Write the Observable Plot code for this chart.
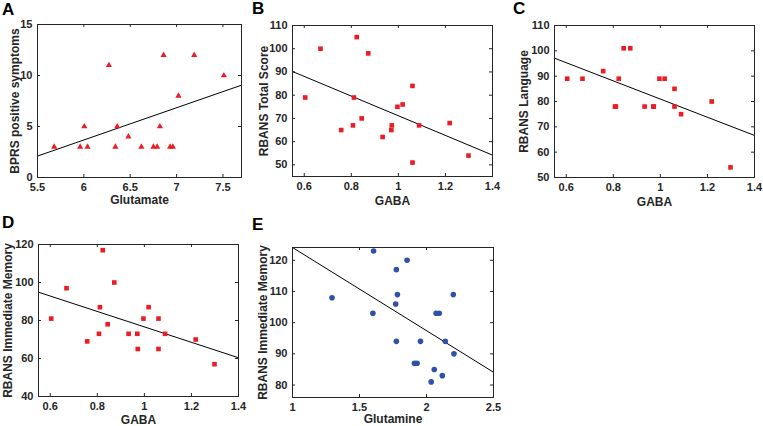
<!DOCTYPE html>
<html><head><meta charset="utf-8">
<script src="https://cdn.jsdelivr.net/npm/d3@7"></script>
<script src="https://cdn.jsdelivr.net/npm/@observablehq/plot@0.6"></script>
<style>
html,body{margin:0;padding:0;background:#fff;}
#root{position:relative;width:763px;height:426px;overflow:hidden;font-family:"Liberation Sans",Arial,sans-serif;}
.panel{position:absolute;}
.panel svg{overflow:visible;}
.letter{position:absolute;font-weight:bold;font-size:17px;line-height:17px;color:#000;font-family:"Liberation Sans",Arial,sans-serif;}
</style></head><body><div id="root"></div>
<script>
// ---- Panel A: Glutamate vs BPRS positive symptoms
const glutamateA = [5.68,5.96,6.005,6.04,6.27,6.34,6.36,6.48,6.62,6.75,6.79,6.82,6.86,6.93,6.96,7.02,7.19,7.51];
const bprsA = [3,3,5,3,11,3,5,4,3,3,3,5,12,3,3,8,12,10];
const fitA = [[5.5,2.1],[7.7,9.05]];
const xTicksA = [5.5,6,6.5,7,7.5];
const yTicksA = [0,5,10,15];

// ---- Panels B, C, D share GABA values
const gaba = [0.604,0.669,0.757,0.807,0.811,0.823,0.844,0.872,0.933,0.970,0.972,0.996,1.018,1.060,1.060,1.088,1.218,1.298];
const totalB = [79,100,65,67,79,105,70,98,62,65,67,75,76,84,51,67,68,54];
const languageC = [89,89,92,78,78,89,101,101,78,78,78,89,89,85,78,75,80,54];
const memoryD = [81,97,69,73,87,117,78,100,73,73,65,81,87,81,65,73,70,57];
const fitB = [[0.55,90.2],[1.4,54.2]];
const fitC = [[0.55,97.1],[1.4,66.6]];
const fitD = [[0.55,94.9],[1.4,60.4]];
const xTicksGaba = [0.6,0.8,1,1.2,1.4];
const yTicksB = [50,60,70,80,90,100,110];
const yTicksC = [50,60,70,80,90,100,110];
const yTicksD = [40,60,80,100,120];

// ---- Panel E: Glutamine vs RBANS Immediate Memory
const glutamineE = [1.295,1.6,1.605,1.77,1.775,1.775,1.783,1.855,1.91,1.93,1.955,2.035,2.058,2.072,2.095,2.118,2.14,2.2,2.205];
const memoryE = [108,103,123,106,117,94,109,120,87,87,94,81,85,103,103,83,94,109,90];
const fitE = [[1,124.1],[2.5,84.1]];
const xTicksE = [1,1.5,2,2.5];
const yTicksE = [80,90,100,110,120];

const RED = "#ec1c24", BLUE = "#2f52a6", INK = "#262626";
const FONT = '"Liberation Sans", Arial, sans-serif';
const root = document.getElementById("root");

function panel(o) {
  const fw = o.width - o.ml - o.mr, fh = o.height - o.mt - o.mb, tk = 3;
  const data = o.xs.map((x, i) => ({x, y: o.ys[i]}));
  const fmt = d => String(d);
  const svg = Plot.plot({
    width: o.width, height: o.height,
    marginLeft: o.ml, marginTop: o.mt, marginRight: o.mr, marginBottom: o.mb,
    x: {domain: o.xDomain, label: null},
    y: {domain: o.yDomain, label: null},
    style: {fontFamily: FONT, fontSize: "11px", fontWeight: "bold", color: INK, background: "transparent", overflow: "visible"},
    marks: [
      Plot.axisX(o.xTicks, {tickSize: 0, tickPadding: 6, tickFormat: fmt, label: null, fill: INK, fontWeight: "bold", fontSize: 11}),
      Plot.axisY(o.yTicks, {tickSize: 0, tickPadding: 5, tickFormat: fmt, label: null, fill: INK, fontWeight: "bold", fontSize: 11}),
      Plot.tickX(o.xTicks, {x: d => d, insetTop: fh - tk, stroke: INK}),
      Plot.tickX(o.xTicks, {x: d => d, insetBottom: fh - tk, stroke: INK}),
      Plot.tickY(o.yTicks, {y: d => d, insetRight: fw - tk, stroke: INK}),
      Plot.tickY(o.yTicks, {y: d => d, insetLeft: fw - tk, stroke: INK}),
      Plot.line(o.fit, {x: d => d[0], y: d => d[1], stroke: "#000", strokeWidth: 1}),
      Plot.dot(data, {x: "x", y: "y", symbol: o.symbol, r: o.r, fill: o.color, stroke: "none"}),
      Plot.frame({stroke: INK, strokeWidth: 1}),
      Plot.text([o.xLabel], {text: d => d, frameAnchor: "bottom", textAnchor: "middle", dy: o.xlOff, lineAnchor: "bottom", fontSize: 12, fontWeight: "bold", fill: INK}),
      Plot.text([o.yLabel], {text: d => d, frameAnchor: "left", textAnchor: "middle", lineAnchor: "middle", rotate: -90, dx: -o.ylOff, fontSize: 12, fontWeight: "bold", fill: INK})
    ]
  });
  const div = document.createElement("div");
  div.className = "panel";
  div.style.left = o.left + "px";
  div.style.top = o.top + "px";
  div.appendChild(svg);
  root.appendChild(div);
  const L = document.createElement("div");
  L.className = "letter";
  L.textContent = o.letter;
  L.style.left = o.lx + "px";
  L.style.top = (o.lb - 14.4) + "px";
  root.appendChild(L);
}

panel({left: 0, top: 0, width: 250, height: 210, ml: 37, mt: 24, mr: 9, mb: 33,
  xDomain: [5.5, 7.7], yDomain: [0, 15], xTicks: xTicksA, yTicks: yTicksA,
  xs: glutamateA, ys: bprsA, fit: fitA, symbol: "triangle", r: 2.3, color: RED,
  xLabel: "Glutamate", yLabel: "BPRS positive symptoms", xlOff: 26, ylOff: 22,
  letter: "A", lx: 2, lb: 15});

panel({left: 250, top: 0, width: 250, height: 210, ml: 42, mt: 25, mr: 8, mb: 34,
  xDomain: [0.55, 1.4], yDomain: [45, 110], xTicks: xTicksGaba, yTicks: yTicksB,
  xs: gaba, ys: totalB, fit: fitB, symbol: "square", r: 2.6, color: RED,
  xLabel: "GABA", yLabel: "RBANS Total Score", xlOff: 28, ylOff: 28.5,
  letter: "B", lx: 252, lb: 14});

panel({left: 500, top: 0, width: 263, height: 210, ml: 54, mt: 25, mr: 9, mb: 33,
  xDomain: [0.55, 1.4], yDomain: [50, 110], xTicks: xTicksGaba, yTicks: yTicksC,
  xs: gaba, ys: languageC, fit: fitC, symbol: "square", r: 2.6, color: RED,
  xLabel: "GABA", yLabel: "RBANS Language", xlOff: 28, ylOff: 30,
  letter: "C", lx: 513, lb: 14});

panel({left: 0, top: 210, width: 250, height: 216, ml: 38, mt: 34, mr: 12, mb: 30,
  xDomain: [0.55, 1.4], yDomain: [40, 120], xTicks: xTicksGaba, yTicks: yTicksD,
  xs: gaba, ys: memoryD, fit: fitD, symbol: "square", r: 2.6, color: RED,
  xLabel: "GABA", yLabel: "RBANS Immediate Memory", xlOff: 27, ylOff: 30,
  letter: "D", lx: 2, lb: 228});

panel({left: 250, top: 210, width: 250, height: 216, ml: 42, mt: 37, mr: 7, mb: 29,
  xDomain: [1, 2.5], yDomain: [76, 124.1], xTicks: xTicksE, yTicks: yTicksE,
  xs: glutamineE, ys: memoryE, fit: fitE, symbol: "circle", r: 2.8, color: BLUE,
  xLabel: "Glutamine", yLabel: "RBANS Immediate Memory", xlOff: 25, ylOff: 29.5,
  letter: "E", lx: 252, lb: 230});
</script></body></html>
